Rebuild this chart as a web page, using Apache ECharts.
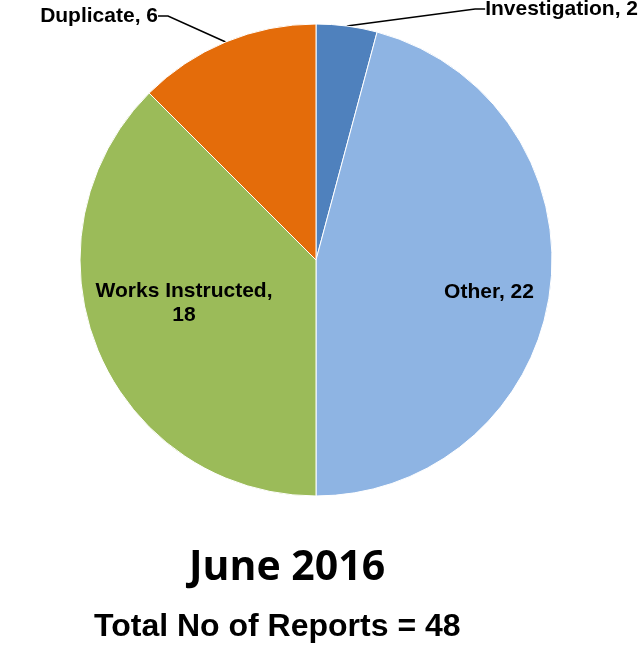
<!DOCTYPE html>
<html>
<head>
<meta charset="utf-8">
<script src="https://cdn.jsdelivr.net/npm/echarts@6/dist/echarts.min.js"></script>
<style>
  html, body { margin: 0; padding: 0; background: #fff; }
  #chart { width: 643px; height: 653px; }
</style>
</head>
<body>
<div id="chart"></div>
<script>
// data
var categories = ['Investigation', 'Other', 'Works Instructed', 'Duplicate'];
var values = [2, 22, 18, 6];
var colors = ['#4F81BD', '#8EB4E3', '#9BBB59', '#E46C0A'];

// label spots (x, y, align)
var labelSpots = [
    { x: 638, y: 9, align: 'right' },
    { x: 489, y: 292, align: 'center' },
    { x: 184, y: 303, align: 'center' },
    { x: 158, y: 16, align: 'right' }
];

var myChart = echarts.init(document.getElementById('chart'));

var data = categories.map(function (name, i) {
    var outside = (i === 0 || i === 3);
    return {
        name: name,
        value: values[i],
        itemStyle: { color: colors[i] },
        label: {
            position: outside ? 'outside' : 'inside',
            formatter: i === 2 ? '{b},\n{c}' : '{b}, {c}'
        },
        labelLine: { show: outside }
    };
});

var option = {
    animation: false,
    title: [{
        text: 'June 2016',
        left: 189,
        top: 548,
        padding: 0,
        textStyle: { fontFamily: 'Open Sans', fontWeight: 'bold', fontSize: 41, color: '#000' }
    }, {
        text: 'Total No of Reports = 48',
        left: 94,
        top: 611,
        padding: 0,
        textStyle: { fontFamily: 'Liberation Sans', fontWeight: 'bold', fontSize: 32, color: '#000' }
    }],
    series: [{
        type: 'pie',
        center: [316, 260],
        radius: 236,
        startAngle: 90,
        data: data,
        itemStyle: { borderColor: '#fff', borderWidth: 1 },
        label: {
            color: '#000',
            fontFamily: 'Liberation Sans',
            fontWeight: 'bold',
            fontSize: 21,
            lineHeight: 24
        },
        labelLine: {
            lineStyle: { color: '#000', width: 1.5 },
            length: 15,
            length2: 10
        },
        labelLayout: function (params) {
            var s = labelSpots[params.dataIndex];
            return { x: s.x, y: s.y, align: s.align, verticalAlign: 'middle' };
        }
    }]
};

myChart.setOption(option);
</script>
</body>
</html>
